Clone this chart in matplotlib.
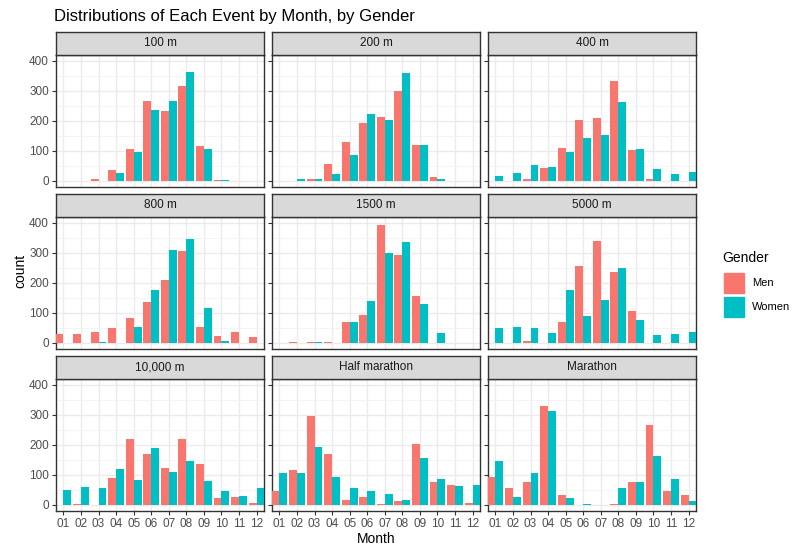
import numpy as np
import matplotlib.pyplot as plt

EVENTS = ["100 m", "200 m", "400 m", "800 m", "1500 m", "5000 m",
          "10,000 m", "Half marathon", "Marathon"]
MONTHS = ["01", "02", "03", "04", "05", "06", "07", "08", "09", "10", "11", "12"]

MEN = {
    "100 m":         [0, 0, 8, 38, 105, 265, 232, 315, 118, 4, 0, 0],
    "200 m":         [0, 0, 8, 58, 131, 192, 212, 298, 121, 12, 0, 0],
    "400 m":         [0, 0, 8, 42, 111, 204, 208, 334, 104, 8, 0, 0],
    "800 m":         [31, 31, 37, 51, 84, 137, 209, 305, 54, 24, 37, 21],
    "1500 m":        [0, 4, 4, 4, 70, 94, 394, 292, 156, 0, 0, 0],
    "5000 m":        [0, 0, 8, 0, 70, 256, 338, 236, 107, 0, 0, 0],
    "10,000 m":      [0, 4, 0, 89, 220, 169, 122, 218, 136, 22, 25, 8],
    "Half marathon": [45, 118, 295, 168, 15, 25, 4, 12, 202, 75, 65, 8],
    "Marathon":      [92, 58, 78, 328, 32, 0, 0, 4, 75, 265, 48, 32],
}
WOMEN = {
    "100 m":         [0, 0, 0, 28, 95, 235, 265, 362, 105, 4, 0, 0],
    "200 m":         [0, 5, 5, 22, 85, 222, 202, 358, 121, 5, 0, 0],
    "400 m":         [18, 28, 54, 48, 98, 144, 154, 264, 108, 41, 24, 31],
    "800 m":         [0, 0, 4, 0, 54, 176, 308, 345, 117, 8, 0, 0],
    "1500 m":        [0, 0, 4, 0, 70, 140, 299, 335, 130, 34, 0, 0],
    "5000 m":        [51, 54, 51, 34, 176, 90, 143, 249, 77, 28, 31, 37],
    "10,000 m":      [49, 59, 56, 119, 82, 189, 109, 146, 79, 46, 31, 58],
    "Half marathon": [108, 108, 192, 92, 55, 48, 38, 15, 155, 88, 62, 68],
    "Marathon":      [145, 28, 108, 312, 22, 4, 0, 58, 78, 162, 88, 12],
}

RED, TEAL = "#F8766D", "#00BFC4"
W = 812 / 100; H = 554 / 100
fig = plt.figure(figsize=(W, H), dpi=100)
plt.rcParams["font.family"] = "Liberation Sans"

cols = [(56, 264), (272, 480), (488, 696)]
rows = [(32, 55, 187), (194, 217, 349), (356, 379, 511)]
x = np.arange(1, 13)
bw = 0.45

for i, ev in enumerate(EVENTS):
    r, c = divmod(i, 3)
    x0, x1 = cols[c]
    st, p0, p1 = rows[r]
    ax = fig.add_axes([x0 / 812, 1 - p1 / 554, (x1 - x0) / 812, (p1 - p0) / 554])
    sax = fig.add_axes([x0 / 812, 1 - p0 / 554, (x1 - x0) / 812, (p0 - st) / 554])
    sax.set_facecolor("#D9D9D9")
    sax.set_xticks([]); sax.set_yticks([])
    for sp in sax.spines.values():
        sp.set_color("#333333"); sp.set_linewidth(1.0)
    sax.text(0.5, 0.5, ev, ha="center", va="center", fontsize=8.5, color="#1A1A1A",
             transform=sax.transAxes)

    ax.bar(x - bw / 2, MEN[ev], width=bw, color=RED, zorder=3)
    ax.bar(x + bw / 2, WOMEN[ev], width=bw, color=TEAL, zorder=3)
    ax.set_xlim(0.58, 12.42)
    ax.set_ylim(-20, 419)
    ax.set_yticks([0, 100, 200, 300, 400])
    ax.set_yticks([50, 150, 250, 350], minor=True)
    ax.set_xticks(x)
    ax.grid(True, which="major", color="#EBEBEB", linewidth=1.0, zorder=0)
    ax.grid(True, which="minor", axis="y", color="#F2F2F2", linewidth=0.6, zorder=0)
    ax.set_axisbelow(True)
    ax.tick_params(which="minor", length=0)
    ax.tick_params(which="major", length=3, color="#333333", labelsize=8.5,
                   labelcolor="#4D4D4D", pad=2)
    for sp in ax.spines.values():
        sp.set_color("#333333"); sp.set_linewidth(1.0)
    if c == 0:
        ax.set_yticklabels(["0", "100", "200", "300", "400"])
    else:
        ax.set_yticklabels([])
    if r == 2:
        ax.set_xticklabels(MONTHS)
    else:
        ax.set_xticklabels([]); ax.tick_params(axis="x", length=0)

fig.text(54 / 812, 1 - 16 / 554, "Distributions of Each Event by Month, by Gender",
         fontsize=12, va="center", ha="left")
fig.text(376 / 812, 1 - 539 / 554, "Month", fontsize=10, ha="center", va="center")
fig.text(20 / 812, 1 - 271 / 554, "count", fontsize=10, ha="center", va="center",
         rotation=90)
fig.text(722 / 812, 1 - 258 / 554, "Gender", fontsize=10, ha="left", va="center")
for yy, lab, col in [(283, "Men", RED), (307, "Women", TEAL)]:
    fig.patches.append(plt.Rectangle((724 / 812, 1 - (yy + 10) / 554), 20 / 812, 20 / 554,
                                     transform=fig.transFigure, color=col))
    fig.text(752 / 812, 1 - yy / 554, lab, fontsize=8, ha="left", va="center")

fig.savefig("out.png", dpi=100)
